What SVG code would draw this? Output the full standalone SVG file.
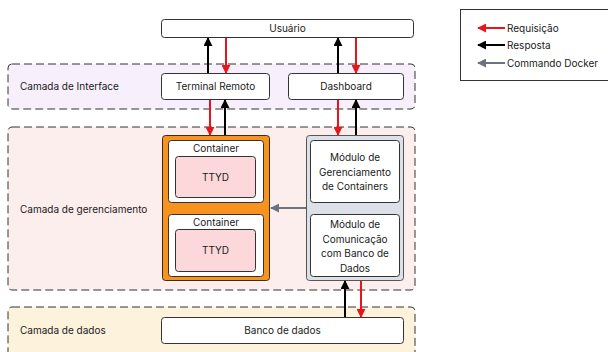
<svg xmlns="http://www.w3.org/2000/svg" width="608" height="352" viewBox="0 0 608 352">
  <defs>
    <style>
      text { font-family: Inter, "Noto Sans", "Liberation Sans", sans-serif; font-size: 10px; fill: #1a1a1a; }
      .c { text-anchor: middle; }
      .layer { stroke: #333; stroke-width: 1; stroke-dasharray: 8 4; }
      .box { fill: #fff; stroke: #333; stroke-width: 1; }
      .ttyd { fill: #fdd8da; stroke: #333; stroke-width: 1; }
      .req { stroke: #e8161b; stroke-width: 2; fill: none; marker-end: url(#ah-red); }
      .res { stroke: #000; stroke-width: 2; fill: none; marker-end: url(#ah-black); }
      .cmd { stroke: #6b7280; stroke-width: 2; fill: none; marker-end: url(#ah-gray); }
    </style>
    <marker id="ah-red" viewBox="0 0 10 10" refX="9" refY="5" markerWidth="4.5" markerHeight="4.5" orient="auto" markerUnits="strokeWidth">
      <path d="M0,0 L10,5 L0,10 Z" fill="#e8161b"/>
    </marker>
    <marker id="ah-black" viewBox="0 0 10 10" refX="9" refY="5" markerWidth="4.5" markerHeight="4.5" orient="auto" markerUnits="strokeWidth">
      <path d="M0,0 L10,5 L0,10 Z" fill="#000"/>
    </marker>
    <marker id="ah-gray" viewBox="0 0 10 10" refX="9" refY="5" markerWidth="4.5" markerHeight="4.5" orient="auto" markerUnits="strokeWidth">
      <path d="M0,0 L10,5 L0,10 Z" fill="#6b7280"/>
    </marker>
  </defs>

  <!-- layers -->
  <g id="layer-interface">
    <rect class="layer" x="8" y="64" width="407" height="45" rx="4" fill="#f8effc"/>
    <text x="20" y="90">Camada de Interface</text>
  </g>
  <g id="layer-gerenciamento">
    <rect class="layer" x="8" y="127" width="407" height="163" rx="4" fill="#fdeeee"/>
    <text x="20" y="213">Camada de gerenciamento</text>
  </g>
  <g id="layer-dados">
    <rect class="layer" x="8" y="307" width="407" height="60" rx="4" fill="#fdf2dc"/>
    <text x="20" y="334">Camada de dados</text>
  </g>

  <!-- nodes -->
  <g id="usuario">
    <rect class="box" x="161.5" y="19.5" width="252" height="18" rx="3"/>
    <text class="c" x="287.5" y="32">Usuário</text>
  </g>
  <g id="terminal-remoto">
    <rect class="box" x="161.5" y="73.5" width="108" height="26" rx="3"/>
    <text class="c" x="215.5" y="90">Terminal Remoto</text>
  </g>
  <g id="dashboard">
    <rect class="box" x="288.5" y="73.5" width="115" height="26" rx="3"/>
    <text class="c" x="346" y="90">Dashboard</text>
  </g>

  <g id="containers">
    <rect x="162.5" y="135.5" width="107" height="145" rx="3" fill="#f7931e" stroke="#3a2a1a" stroke-width="1"/>
    <g id="container-1">
      <rect class="box" x="168.5" y="140.5" width="95" height="62" rx="3"/>
      <text class="c" x="216" y="152">Container</text>
      <rect class="ttyd" x="175.5" y="156.5" width="80" height="41" rx="3"/>
      <text class="c" x="215.5" y="181">TTYD</text>
    </g>
    <g id="container-2">
      <rect class="box" x="168.5" y="214.5" width="95" height="62" rx="3"/>
      <text class="c" x="216" y="226">Container</text>
      <rect class="ttyd" x="175.5" y="229.5" width="80" height="42" rx="3"/>
      <text class="c" x="215.5" y="254">TTYD</text>
    </g>
  </g>

  <g id="backend">
    <rect x="306.5" y="135.5" width="97" height="145" rx="3" fill="#dde0e6" stroke="#555" stroke-width="1"/>
    <g id="modulo-gerenciamento">
      <rect class="box" x="310.5" y="140.5" width="89" height="62" rx="3"/>
      <text class="c" x="355" y="161">Módulo de</text>
      <text class="c" x="355" y="175.5">Gerenciamento</text>
      <text class="c" x="355" y="190">de Containers</text>
    </g>
    <g id="modulo-comunicacao">
      <rect class="box" x="310.5" y="214.5" width="89" height="62" rx="3"/>
      <text class="c" x="355" y="228">Módulo de</text>
      <text class="c" x="355" y="242.5">Comunicação</text>
      <text class="c" x="355" y="257">com Banco de</text>
      <text class="c" x="355" y="271.5">Dados</text>
    </g>
  </g>

  <g id="banco-de-dados">
    <rect class="box" x="161.5" y="317.5" width="242" height="26" rx="3"/>
    <text class="c" x="282.5" y="334">Banco de dados</text>
  </g>

  <!-- connectors -->
  <g id="connectors">
    <line class="res" x1="208" y1="73" x2="208" y2="38"/>
    <line class="req" x1="226" y1="38" x2="226" y2="73"/>
    <line class="res" x1="338" y1="73" x2="338" y2="38"/>
    <line class="req" x1="356" y1="38" x2="356" y2="73"/>

    <line class="req" x1="210" y1="100" x2="210" y2="135"/>
    <line class="res" x1="225" y1="135" x2="225" y2="100"/>
    <line class="req" x1="338" y1="100" x2="338" y2="135"/>
    <line class="res" x1="356" y1="135" x2="356" y2="100"/>

    <line class="cmd" x1="306" y1="208" x2="271" y2="208"/>

    <line class="res" x1="345" y1="317" x2="345" y2="281"/>
    <line class="req" x1="361" y1="281" x2="361" y2="317"/>
  </g>

  <!-- legend -->
  <g id="legend">
    <rect x="460.5" y="9.5" width="160" height="71" fill="#fff" stroke="#333" stroke-width="1"/>
    <line class="req" x1="505" y1="28" x2="478" y2="28"/>
    <text x="507" y="32">Requisição</text>
    <line class="res" x1="505" y1="45" x2="478" y2="45"/>
    <text x="507" y="49">Resposta</text>
    <line class="cmd" x1="505" y1="63" x2="478" y2="63"/>
    <text x="507" y="67">Commando Docker</text>
  </g>
</svg>
